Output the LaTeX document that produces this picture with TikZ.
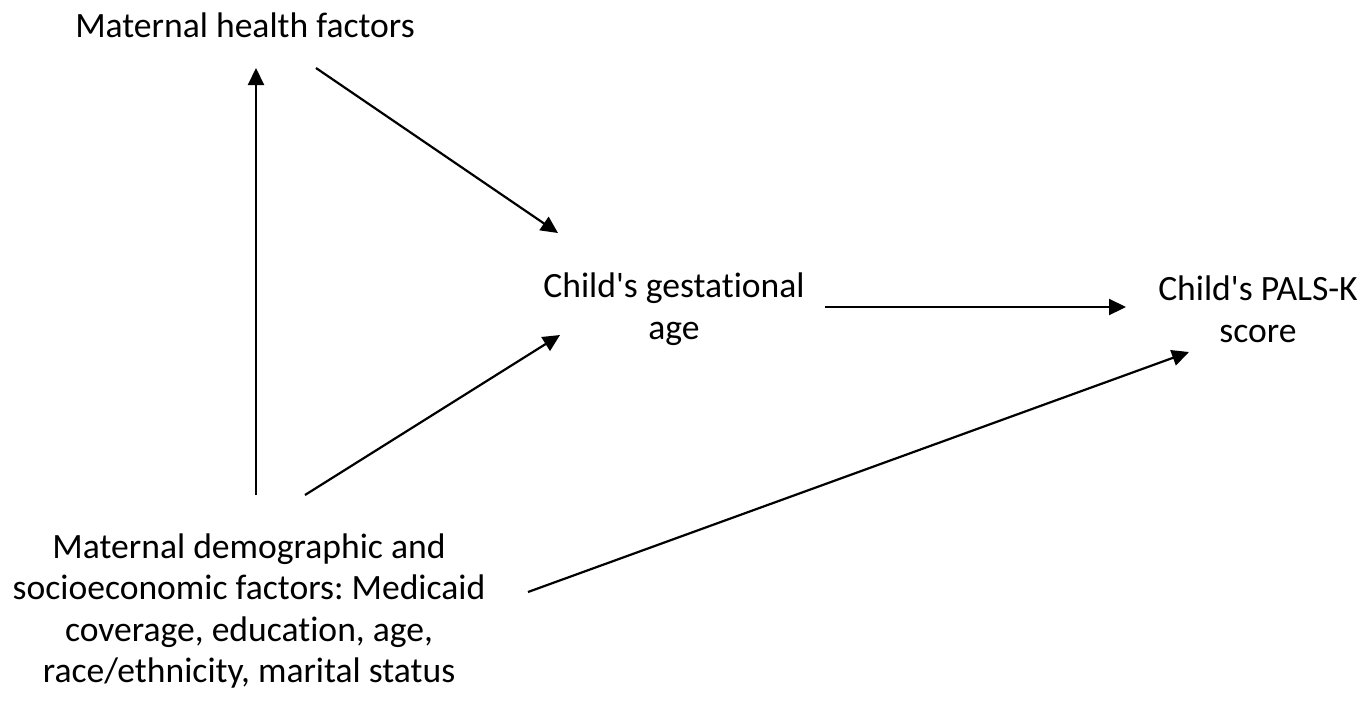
\documentclass[tikz,border=0pt]{standalone}
\usepackage{fontspec}
\setmainfont{Carlito}[Ligatures={NoCommon}]
\usetikzlibrary{arrows.meta}
\begin{document}
\begin{tikzpicture}[x=0.5pt,y=-0.5pt,
  lbl/.style={font=\fontsize{17.8}{20.8}\selectfont\frenchspacing, align=center, inner sep=0pt},
  arr/.style={line width=1.1pt, -{Triangle[length=8.5pt,width=8pt]}}]
\useasboundingbox (0,0) rectangle (1372,709);
\node[lbl] (mh) at (245,25) {Maternal health factors};
\node[lbl] (ga) at (674,309) {Child\textquotesingle s gestational\\age};
\node[lbl] (pk) at (1258,309) {Child\textquotesingle s PALS-K\\score};
\node[lbl] (md) at (249,611) {Maternal demographic and\\socioeconomic factors: Medicaid\\coverage, education, age,\\race/ethnicity, marital status};
\coordinate (mdA) at (256,495);
\coordinate (mhA) at (256,68);
\coordinate (mhB) at (316,68);
\coordinate (gaA) at (558,233);
\coordinate (mdB) at (305,495);
\coordinate (gaB) at (560,335);
\coordinate (gaC) at (825,307);
\coordinate (pkA) at (1126,307);
\coordinate (mdC) at (528,592);
\coordinate (pkB) at (1189,352);
\draw[arr] (mdA) -- (mhA);
\draw[arr] (mhB) -- (gaA);
\draw[arr] (mdB) -- (gaB);
\draw[arr] (gaC) -- (pkA);
\draw[arr] (mdC) -- (pkB);
\end{tikzpicture}
\end{document}
